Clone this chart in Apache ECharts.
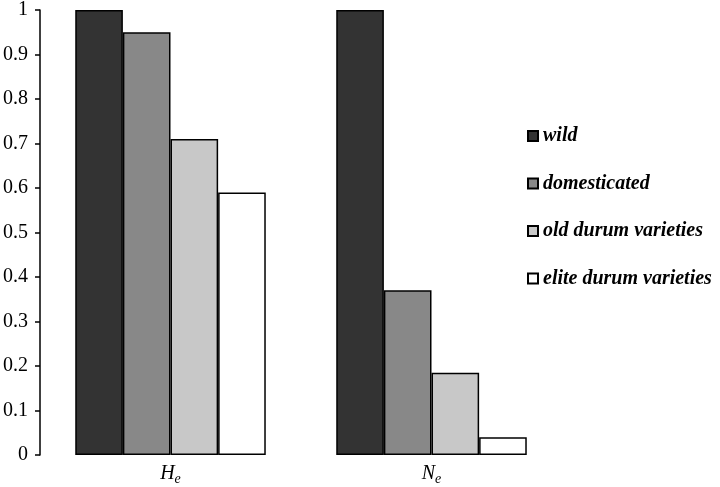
<!DOCTYPE html>
<html><head><meta charset="utf-8">
<script src="https://cdn.jsdelivr.net/npm/echarts@6/dist/echarts.min.js"></script>
<style>html,body{margin:0;padding:0;background:#fff}#c{width:720px;height:487px}</style>
</head><body><div id="c"></div>
<script>
const categories = ['H', 'N'];
const seriesNames = ['wild', 'domesticated', 'old durum varieties', 'elite durum varieties'];
const wild = [1, 1];
const domesticated = [0.95, 0.37];
const oldDurum = [0.71, 0.185];
const eliteDurum = [0.59, 0.04];
const colors = ['#333333', '#888888', '#c8c8c8', '#ffffff'];
const values = [wild, domesticated, oldDurum, eliteDurum];

const chart = echarts.init(document.getElementById('c'));
const serif = '"Liberation Serif", "DejaVu Serif", serif';
chart.setOption({
  animation: false,
  grid: { left: 38, right: 158, top: 10, bottom: 32 },
  legend: {
    orient: 'vertical', left: 527, top: 124, padding: 0,
    itemWidth: 10, itemHeight: 10, itemGap: 23.5,
    icon: 'rect',
    textStyle: { fontFamily: serif, fontStyle: 'italic', fontWeight: 'bold', fontSize: 20, color: '#000', lineHeight: 24 },
    data: seriesNames
  },
  xAxis: {
    type: 'category', data: categories,
    axisLine: { show: false }, axisTick: { show: false },
    axisLabel: {
      margin: 7,
      formatter: v => '{m|' + v + '}{s|e}',
      rich: {
        m: { fontFamily: serif, fontStyle: 'italic', fontSize: 20, color: '#000' },
        s: { fontFamily: serif, fontStyle: 'italic', fontSize: 14, color: '#000', padding: [10, 0, 0, 0] }
      }
    }
  },
  yAxis: {
    type: 'value', min: 0, max: 1, interval: 0.1,
    splitLine: { show: false },
    axisLine: { show: true, lineStyle: { color: '#000', width: 1.5 } },
    axisTick: { show: true, length: 5, lineStyle: { color: '#000', width: 1.5 } },
    axisLabel: { margin: 12, fontFamily: serif, fontSize: 20, color: '#000' }
  },
  series: seriesNames.map((n, i) => ({
    name: n, type: 'bar', data: values[i],
    barGap: '0%', barCategoryGap: '27%',
    itemStyle: { color: colors[i], borderColor: '#000', borderWidth: 1.5 }
  }))
});
</script></body></html>
